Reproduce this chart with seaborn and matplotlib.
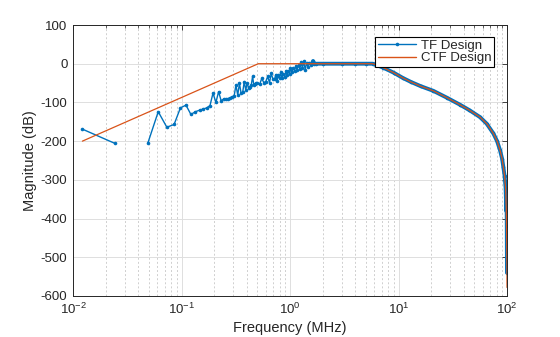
import numpy as np
import pandas as pd
import matplotlib
matplotlib.use("Agg")
import matplotlib.pyplot as plt
import seaborn as sns
from matplotlib.lines import Line2D
from matplotlib.ticker import LogLocator, LogFormatterMathtext, MultipleLocator, NullFormatter

# ---------------- data ----------------
ctf_freq = [0.0122, 0.51, 5.8, 7.2, 9.0, 11.0, 13.0, 16.0, 20.9, 28.0, 36.9, 45.0,
            56.4, 65.0, 74.8, 81.0, 86.1, 90.0, 92.4, 95.0, 97.0, 98.5, 99.3, 99.8, 99.98]
ctf_db = [-200, 0, 0, -10, -23, -37, -47, -58, -70, -88, -106, -120,
          -138, -155, -180, -200, -223, -245, -266, -290, -320, -380, -450, -530, -578]

tf_freq = [0.0122, 0.0244, 0.0366, 0.0488, 0.061, 0.0732, 0.0854, 0.0977, 0.1099, 0.122,
           0.1343, 0.1465, 0.1587, 0.171, 0.183, 0.195, 0.2075, 0.2197, 0.232, 0.2441,
           0.2563, 0.2686, 0.2808, 0.293, 0.3052, 0.3174, 0.3296, 0.3418, 0.354, 0.3662,
           0.3784, 0.3906, 0.4028, 0.415, 0.4272, 0.4395, 0.4517, 0.4639, 0.4761, 0.4883,
           0.5005, 0.5249, 0.5493, 0.5737, 0.5981, 0.6226, 0.647, 0.6714, 0.6958,
           0.72, 0.74, 0.76, 0.78, 0.80, 0.82, 0.84, 0.87, 0.89, 0.92, 0.94, 0.96, 0.99,
           1.01, 1.04, 1.07, 1.10, 1.13, 1.16, 1.20, 1.23, 1.27, 1.30, 1.34, 1.38, 1.42,
           1.46, 1.50, 1.55, 1.60, 1.63, 1.68, 1.75,
           2.0, 3.0, 4.0, 5.0, 5.8, 7.2, 9.0, 11.0, 13.0, 16.0, 20.9, 28.0, 36.9, 45.0,
           56.4, 65.0, 74.8, 81.0, 86.1, 90.0, 92.4, 95.0, 97.0, 98.5, 99.0, 99.5, 99.9]
tf_db = [-169, -206, np.nan, -206, -124, -164, -157, -114, -107, -131,
         -124, -120, -117, -114, -108, -76, -100, -72, -96, -91,
         -91, -90, -88, -85, -84, -55, -81, -51, -76, -74,
         -46, -68, -50, -62, -59, -55, -33, -55, -52, -50,
         -50, -53, -38, -49, -46, -33, -49, -25, -40,
         -40, -28, -44, -30, -38, -22, -36, -26, -34, -18, -30, -20, -26,
         -12, -22, -10, -18, -6, -15, -4, -14, 5, -12, 6, -16, 2,
         -8, 3, -4, 1, 7, -1, 0,
         0, 0, 0, 0, 0, -10, -23, -37, -47, -58, -70, -88, -106, -120,
         -138, -155, -180, -200, -223, -245, -266, -290, -320, -380, -330, -420, -540]

blue = "#0072BD"
orange = "#D95319"

tf = pd.DataFrame({"freq": tf_freq, "db": tf_db})
tf["seg"] = tf["db"].isna().cumsum()
tf = tf.dropna()
ctf = pd.DataFrame({"freq": ctf_freq, "db": ctf_db})
dense = tf[tf["freq"] >= 1.6]

# ---------------- style ----------------
sns.set_theme(style="white")
plt.rcParams["font.family"] = ["Liberation Sans", "DejaVu Sans"]
plt.rcParams["mathtext.default"] = "regular"
plt.rcParams["axes.unicode_minus"] = False

fig = plt.figure(figsize=(5.6, 3.37), dpi=100)
ax = fig.add_axes([0.1304, 0.1217, 0.775, 0.8041])

sns.lineplot(data=tf, x="freq", y="db", units="seg", estimator=None, sort=False,
             color=blue, lw=1.0, marker="o", markersize=2.6, markeredgewidth=0,
             ax=ax, zorder=2)
sns.lineplot(data=dense, x="freq", y="db", estimator=None, sort=False,
             color=blue, lw=2.8, ax=ax, zorder=2)
sns.lineplot(data=ctf, x="freq", y="db", estimator=None, sort=False,
             color=orange, lw=0.9, ax=ax, zorder=3)

ax.set_xscale("log")
ax.set_xlim(0.01, 100)
ax.set_ylim(-600, 100)
ax.xaxis.set_major_locator(LogLocator(base=10, numticks=10))
ax.xaxis.set_major_formatter(LogFormatterMathtext())
ax.xaxis.set_minor_locator(LogLocator(base=10, subs=np.arange(2, 10), numticks=20))
ax.xaxis.set_minor_formatter(NullFormatter())
ax.yaxis.set_major_locator(MultipleLocator(100))

ax.set_axisbelow(True)
ax.grid(which="major", color="#dedede", lw=0.7, ls="-")
ax.grid(which="minor", axis="x", color="#cfcfcf", lw=0.7, ls=(0, (2, 2.2)))

for s in ax.spines.values():
    s.set_color("#262626")
    s.set_linewidth(0.7)
    s.set_visible(True)

ax.tick_params(which="major", direction="in", top=True, right=True, length=3.5,
               width=0.6, labelsize=9.5, colors="#262626", pad=4)
ax.tick_params(which="minor", direction="in", top=True, right=True, length=1.8,
               width=0.5, colors="#262626")

ax.set_xlabel("Frequency (MHz)", fontsize=10.5, color="#262626", labelpad=3)
ax.set_ylabel("Magnitude (dB)", fontsize=10.5, color="#262626", labelpad=3)

handles = [Line2D([], [], color=blue, lw=1.0, marker="o", markersize=2.6, markeredgewidth=0),
           Line2D([], [], color=orange, lw=1.0)]
leg = ax.legend(handles, ["TF Design", "CTF Design"], loc="upper right",
                bbox_to_anchor=(0.971, 0.957), borderaxespad=0, fontsize=9.5,
                frameon=True, fancybox=False, framealpha=1, edgecolor="#000000",
                handlelength=2.9, handletextpad=0.4, borderpad=0.2, labelspacing=0.05)
leg.get_frame().set_linewidth(0.8)

fig.savefig("out.png", dpi=100)
